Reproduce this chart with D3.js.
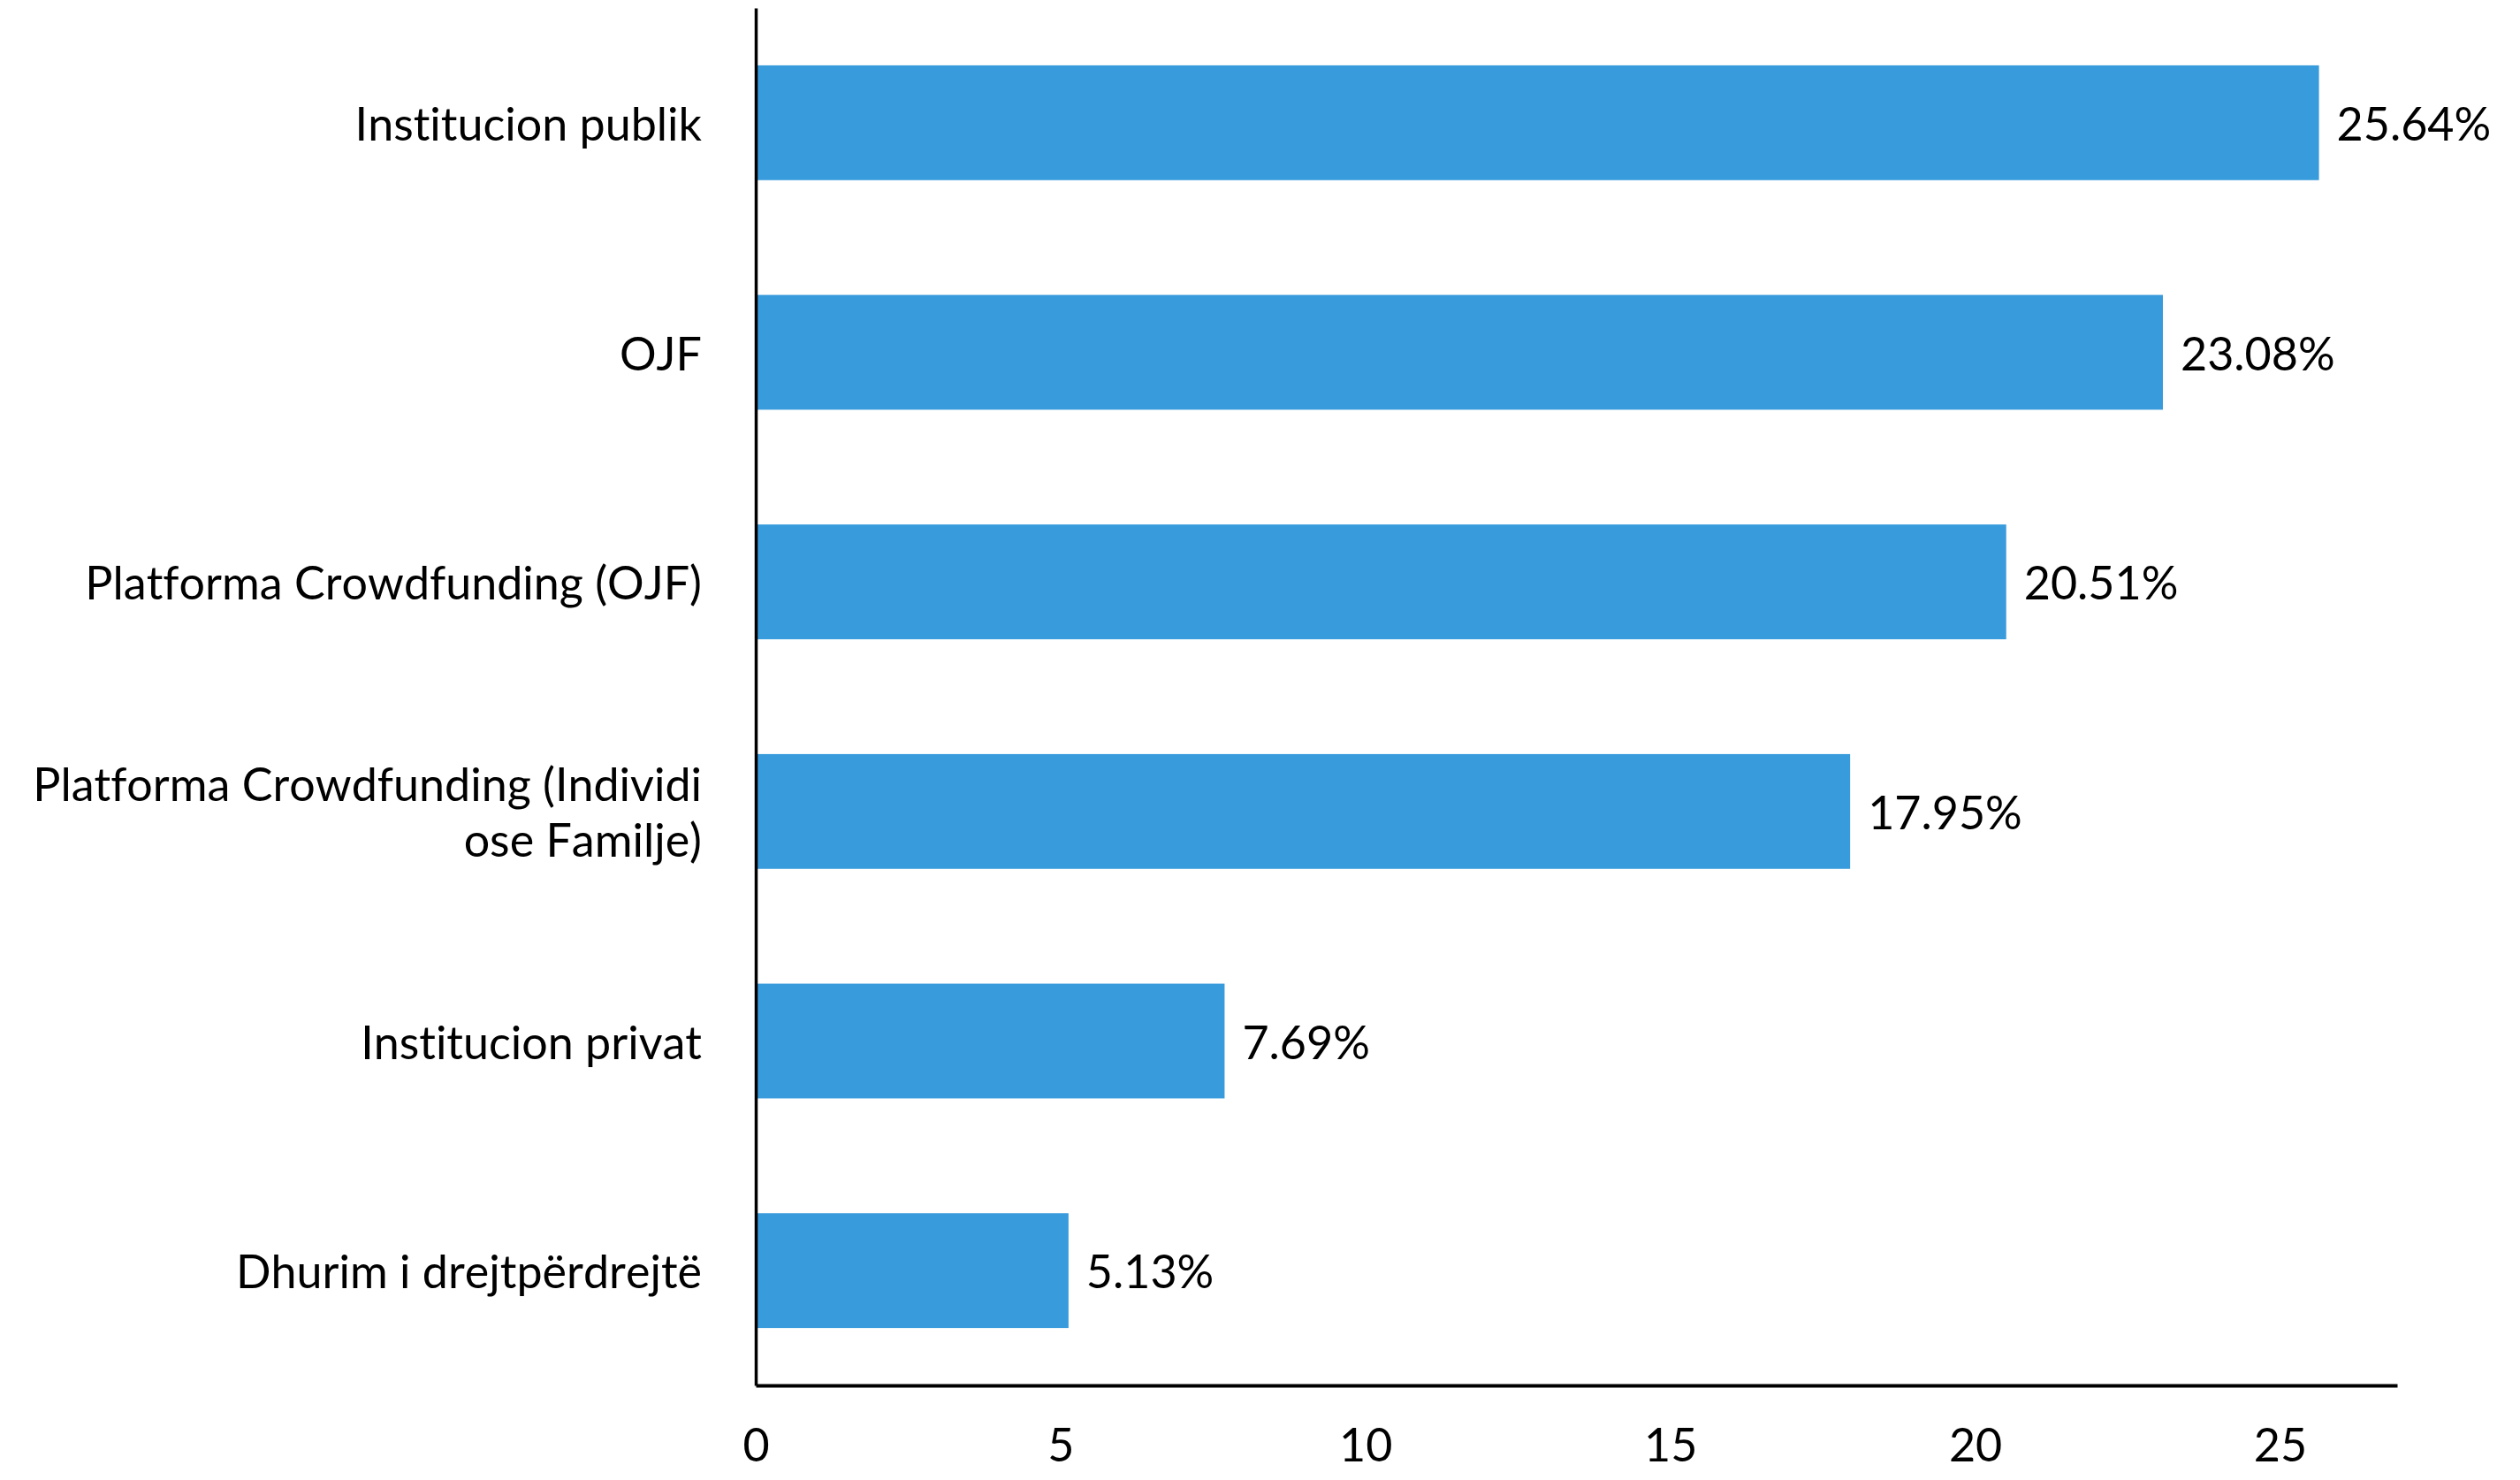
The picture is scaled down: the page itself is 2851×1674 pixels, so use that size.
<!DOCTYPE html>
<html>
<head>
<meta charset="utf-8">
<script src="https://cdn.jsdelivr.net/npm/d3@7"></script>
<style>
  body { margin: 0; background: #fff; }
  text { font-family: Lato, "Open Sans", sans-serif; fill: #000; font-variant-ligatures: none; font-kerning: none; }
</style>
</head>
<body>
<div class="bar-plot"></div>
<script>
const width = 2851;
const height = 1674;

const categories = [
    'Institucion publik',
    'OJF',
    'Platforma Crowdfunding (OJF)',
    'Platforma Crowdfunding (Individi ose Familje)',
    'Institucion privat',
    'Dhurim i drejtpërdrejtë',
]
const values = [25.64, 23.08, 20.51, 17.95, 7.69, 5.13]
const xTicks = [0, 5, 10, 15, 20, 25]

const margin = {top: 9, right: 139, bottom: 107, left: 855}

const data = categories.map((c, i) => ({category: c, value: values[i]}))

const svg = d3.select('.bar-plot')
    .append('svg')
    .attr('width', width)
    .attr('height', height)

const x = d3.scaleLinear()
    .domain([0, d3.max(values) * 1.05])
    .range([margin.left, width - margin.right])

const y = d3.scaleBand()
    .domain(categories)
    .range([margin.top, height - margin.bottom])
    .paddingInner(0.5)
    .paddingOuter(0.25)

// wrap long category names onto several lines
const wrap = (texts, maxWidth) => texts.each(function () {
    const text = d3.select(this)
    const words = text.text().split(/\s+/)
    text.text(null)
    let lines = [[]]
    const probe = text.append('tspan')
    words.forEach(w => {
        const cur = lines[lines.length - 1]
        probe.text([...cur, w].join(' '))
        if (cur.length && probe.node().getComputedTextLength() > maxWidth) lines.push([w])
        else cur.push(w)
    })
    probe.remove()
    const lh = 63
    const first = -(lines.length - 1) * lh / 2
    lines.forEach((l, i) => {
        text.append('tspan')
            .attr('x', text.attr('x'))
            .attr('y', text.attr('y'))
            .attr('dy', first + i * lh + 20)
            .text(l.join(' '))
    })
})

svg.append('g')
    .selectAll('rect')
    .data(data)
    .enter()
    .append('rect')
    .attr('x', x(0))
    .attr('y', d => y(d.category))
    .attr('width', d => x(d.value) - x(0))
    .attr('height', y.bandwidth())
    .attr('fill', '#379bdc')

svg.append('g')
    .selectAll('text')
    .data(data)
    .enter()
    .append('text')
    .attr('x', d => x(d.value) + 20)
    .attr('y', d => y(d.category) + y.bandwidth() / 2)
    .attr('dy', 20)
    .attr('font-size', 52)
    .text(d => d.value.toFixed(2) + '%')

// category labels
svg.append('g')
    .selectAll('text')
    .data(categories)
    .enter()
    .append('text')
    .attr('x', margin.left - 61)
    .attr('y', d => y(d) + y.bandwidth() / 2)
    .attr('text-anchor', 'end')
    .attr('font-size', 52)
    .text(d => d)
    .call(wrap, 800)

// y axis line
svg.append('g')
    .attr('transform', `translate(${margin.left},0)`)
    .call(d3.axisLeft(y).tickSize(0).tickFormat(''))
    .call(g => g.select('.domain').attr('stroke', '#000').attr('stroke-width', 3.5))

// x axis
const xAxis = svg.append('g')
    .attr('transform', `translate(0,${height - margin.bottom})`)
    .call(d3.axisBottom(x).tickValues(xTicks).tickSize(0).tickPadding(49))

xAxis.select('.domain').attr('stroke', '#000').attr('stroke-width', 4)
xAxis.selectAll('text')
    .attr('font-size', 52)
    .attr('font-family', 'Lato, sans-serif')
    .attr('fill', '#000')
</script>
</body>
</html>
